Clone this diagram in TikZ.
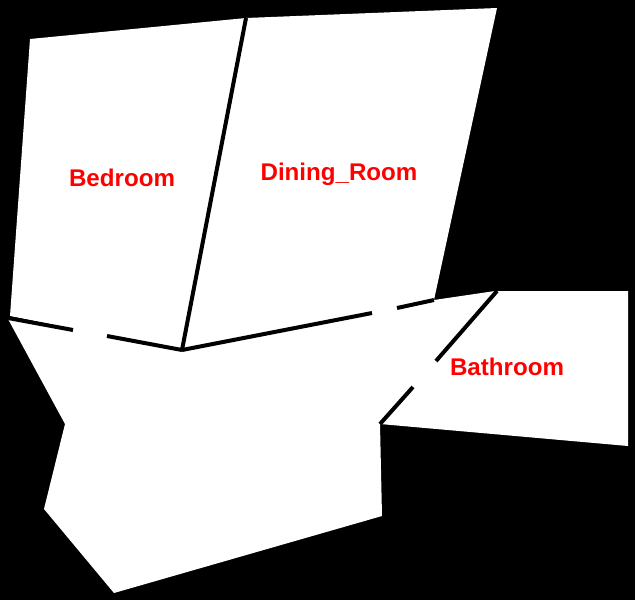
\documentclass[tikz,border=0pt]{standalone}
\usepackage{fontspec}
\setmainfont{Liberation Sans}
\tikzset{
  room/.style={fill=white,draw=none},
  wall/.style={draw=black,line width=3pt,line cap=butt},
  doorway/.style={draw=white,line width=4.5pt,line cap=butt},
  roomlabel/.style={text=red,font=\fontsize{18.1}{20}\selectfont\bfseries,inner sep=0pt}
}
\begin{document}
\begin{tikzpicture}[x=0.75pt,y=-0.75pt]
\useasboundingbox (0,0) rectangle (635,600);
\fill[black] (0,0) rectangle (635,600);
% rooms
\path[room] (30,39) -- (246,18) -- (183,351) -- (10,316) -- cycle;
\path[room] (246,18) -- (497,8) -- (434,300) -- (183,351) -- cycle;
\path[room] (495,291) -- (628,291) -- (628,446) -- (380,424) -- cycle;
\path[room] (8,319) -- (183,351) -- (434,300) -- (495,291) -- (380,424) -- (382,516) -- (114,593) -- (44,509) -- (65,424) -- cycle;
% walls
\coordinate (a1) at (8,318);
\coordinate (a2) at (73,330);
\coordinate (b1) at (107,336);
\coordinate (c) at (182,350);
\coordinate (top) at (246,18);
\coordinate (d2) at (372,313);
\coordinate (e1) at (397,308);
\coordinate (e2) at (434,300);
\coordinate (f1) at (497,291);
\coordinate (f2) at (436,361);
\coordinate (g1) at (413,387);
\coordinate (g2) at (380,424);
% openings between rooms
\draw[doorway] (a2) -- (b1);
\draw[doorway] (d2) -- (e1);
\draw[doorway] (f2) -- (g1);
\draw[wall] (a1) -- (a2);
\draw[wall] (b1) -- (c);
\draw[wall] (c) -- (top);
\draw[wall] (c) -- (d2);
\draw[wall] (e1) -- (e2);
\draw[wall] (f1) -- (f2);
\draw[wall] (g1) -- (g2);
% labels
\node[roomlabel] (bedroom) at (122,178) {Bedroom};
\node[roomlabel] (dining) at (339,174) {Dining\_Room};
\node[roomlabel] (bathroom) at (507,367) {Bathroom};
\end{tikzpicture}
\end{document}
